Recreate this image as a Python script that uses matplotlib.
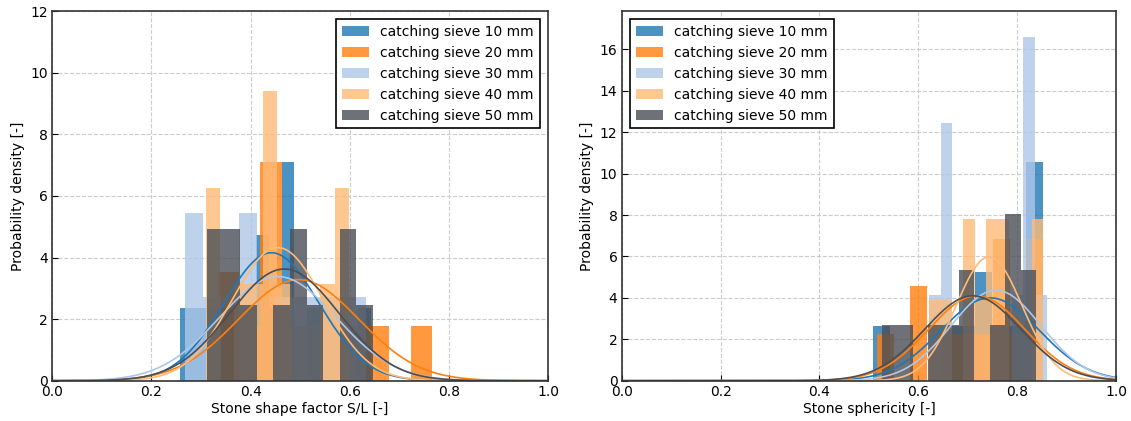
import numpy as np
import matplotlib
matplotlib.use("Agg")
import matplotlib.pyplot as plt

# series labels and colours
labels = ["catching sieve 10 mm", "catching sieve 20 mm", "catching sieve 30 mm",
          "catching sieve 40 mm", "catching sieve 50 mm"]
colors = ["#1f77b4", "#ff7f0e", "#aec7e8", "#ffbb78", "#4a4e55"]

# --- stone shape factor S/L (left panel): bin edges and densities
sl_edges_10 = np.linspace(0.257, 0.668, 17)
sl_dens_10 = [2.37, 2.37, 2.37, 2.37, 2.37, 2.37, 4.73, 2.37, 7.09, 0, 2.37, 2.37, 2.37, 0, 2.37, 0]
sl_edges_20 = np.linspace(0.333, 0.766, 11)
sl_dens_20 = [3.54, 1.77, 7.09, 1.77, 1.77, 1.77, 1.77, 1.77, 0, 1.77]
sl_edges_30 = np.linspace(0.267, 0.633, 11)
sl_dens_30 = [5.43, 2.71, 0, 5.43, 0, 2.71, 2.71, 2.71, 2.71, 2.71]
sl_edges_40 = np.linspace(0.309, 0.599, 11)
sl_dens_40 = [6.27, 0, 3.13, 3.13, 9.40, 3.13, 0, 0, 3.13, 6.27]
sl_edges_50 = np.linspace(0.312, 0.647, 11)
sl_dens_50 = [4.91, 4.91, 2.45, 0, 2.45, 4.91, 2.45, 0, 4.91, 2.45]
# fitted normal curves (mean, std)
sl_mu = [0.442, 0.497, 0.455, 0.455, 0.468]
sl_sigma = [0.096, 0.1216, 0.118, 0.0923, 0.110]

# --- stone sphericity (right panel)
sp_edges_10 = np.linspace(0.508, 0.852, 11)
sp_dens_10 = [2.63, 0, 0, 0, 2.63, 2.63, 5.26, 2.63, 2.63, 10.55]
sp_edges_20 = np.linspace(0.517, 0.852, 11)
sp_dens_20 = [2.28, 0, 4.57, 0, 2.28, 2.28, 2.28, 6.84, 2.28, 6.84]
sp_edges_30 = np.linspace(0.621, 0.860, 11)
sp_dens_30 = [4.15, 12.45, 0, 0, 0, 0, 0, 4.15, 16.6, 4.15]
sp_edges_40 = np.linspace(0.621, 0.853, 11)
sp_dens_40 = [3.9, 3.9, 0, 7.8, 3.9, 7.8, 7.8, 0, 0, 7.8]
sp_edges_50 = np.linspace(0.526, 0.838, 11)
sp_dens_50 = [2.68, 2.68, 0, 2.68, 2.68, 5.37, 0, 2.68, 8.05, 5.37]
sp_mu = [0.745, 0.718, 0.757, 0.743, 0.710]
sp_sigma = [0.0997, 0.0973, 0.0913, 0.0667, 0.0973]

sl_edges = [sl_edges_10, sl_edges_20, sl_edges_30, sl_edges_40, sl_edges_50]
sl_dens = [sl_dens_10, sl_dens_20, sl_dens_30, sl_dens_40, sl_dens_50]
sp_edges = [sp_edges_10, sp_edges_20, sp_edges_30, sp_edges_40, sp_edges_50]
sp_dens = [sp_dens_10, sp_dens_20, sp_dens_30, sp_dens_40, sp_dens_50]

plt.rcParams["font.family"] = "DejaVu Sans"
plt.rcParams["font.size"] = 10

fig = plt.figure(figsize=(11.31, 4.21), dpi=100)
ax1 = fig.add_axes([0.0463, 0.0957, 0.4382, 0.8779])
ax2 = fig.add_axes([0.5497, 0.0957, 0.4372, 0.8779])

xs = np.linspace(0, 1, 400)


def draw(ax, edges, dens, mus, sigmas, xlabel, ymax, loc):
    for e, d, c, lab in zip(edges, dens, colors, labels):
        ax.hist(e[:-1], bins=e, weights=d, color=c, alpha=0.8, label=lab)
    for m, s, c in zip(mus, sigmas, colors):
        pdf = np.exp(-0.5 * ((xs - m) / s) ** 2) / (s * np.sqrt(2 * np.pi))
        ax.plot(xs, pdf, color=c, lw=1.2)
    ax.set_xlim(0, 1)
    ax.set_ylim(0, ymax)
    ax.set_xlabel(xlabel, labelpad=2)
    ax.set_ylabel("Probability density [-]")
    ax.grid(True, ls="--", color="#cccccc", lw=0.8)
    ax.set_axisbelow(True)
    ax.tick_params(direction="in", length=4, pad=3)
    for sp in ax.spines.values():
        sp.set_color("#333333")
        sp.set_linewidth(1.2)
    leg = ax.legend(loc=loc, fancybox=False, framealpha=1, edgecolor="black",
                    borderaxespad=0.6)
    leg.get_frame().set_linewidth(1.2)


draw(ax1, sl_edges, sl_dens, sl_mu, sl_sigma, "Stone shape factor S/L [-]", 12, "upper right")
draw(ax2, sp_edges, sp_dens, sp_mu, sp_sigma, "Stone sphericity [-]", 17.85, "upper left")
ax1.set_yticks(np.arange(0, 13, 2))
ax2.set_yticks(np.arange(0, 17, 2))

fig.savefig("out.png", dpi=100)
